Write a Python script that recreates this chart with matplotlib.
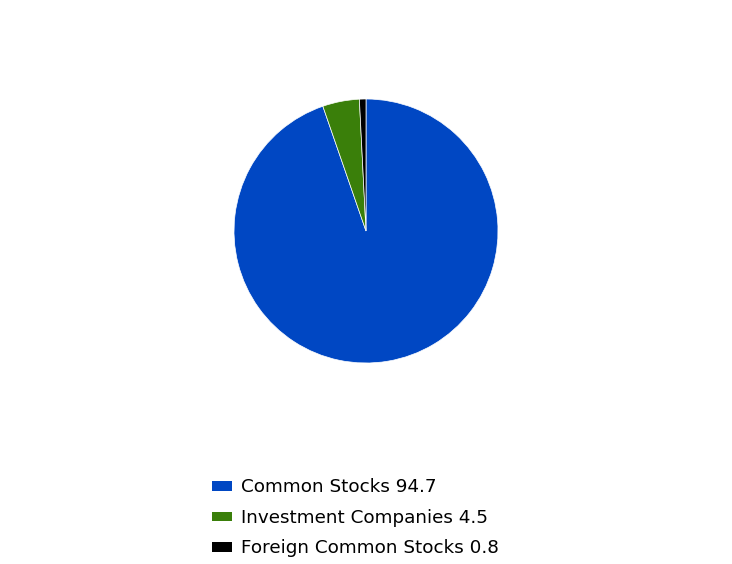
import matplotlib
matplotlib.use("Agg")
import matplotlib.pyplot as plt
from matplotlib.patches import Patch

labels = ["Common Stocks", "Investment Companies", "Foreign Common Stocks"]
values = [94.7, 4.5, 0.8]
colors = ["#0047C3", "#3A7F0A", "#000000"]

fig = plt.figure(figsize=(7.32, 5.64), dpi=100)
ax = fig.add_axes([234/732, (564-231-132)/564, 264/732, 264/564])
ax.pie(values, colors=colors, startangle=90, counterclock=False,
       wedgeprops=dict(edgecolor="white", linewidth=0.5))
ax.set_xlim(-1, 1)
ax.set_ylim(-1, 1)
ax.set_aspect("equal")

handles = [Patch(facecolor=c, edgecolor="none") for c in colors]
leg_labels = [f"{l} {v}" for l, v in zip(labels, values)]
fig.legend(handles, leg_labels, loc="upper left",
           bbox_to_anchor=(195/732, 1 - 462/564), frameon=False,
           fontsize=13.2, handlelength=1.1, handleheight=0.4,
           handletextpad=0.5, labelspacing=0.68)
fig.savefig("out.png", dpi=100)
